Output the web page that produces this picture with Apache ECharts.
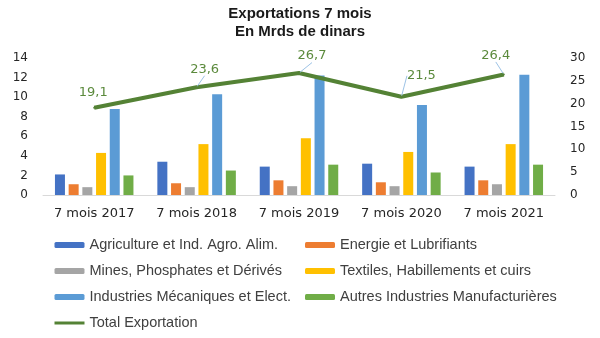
<!DOCTYPE html>
<html>
<head>
<meta charset="utf-8">
<script src="https://cdn.jsdelivr.net/npm/echarts@6/dist/echarts.min.js"></script>
<style>html,body{margin:0;padding:0;background:#fff}#c{width:600px;height:338px}</style>
</head>
<body>
<div id="c"></div>
<script>
const categories = ['7 mois 2017', '7 mois 2018', '7 mois 2019', '7 mois 2020', '7 mois 2021'];
const agriculture = [2.1, 3.4, 2.9, 3.2, 2.9];
const energie = [1.1, 1.2, 1.5, 1.3, 1.5];
const mines = [0.8, 0.8, 0.9, 0.9, 1.1];
const textiles = [4.3, 5.2, 5.8, 4.4, 5.2];
const industries = [8.8, 10.3, 12.2, 9.2, 12.3];
const autres = [2.0, 2.5, 3.1, 2.3, 3.1];
const total = [19.1, 23.6, 26.7, 21.5, 26.4];
const leftTicks = { min: 0, max: 14, interval: 2 };
const rightTicks = { min: 0, max: 30, interval: 5 };

// label placement for the total line (layout only)
const labelShift = [[-1, -15], [8, -18], [13, -17], [20, -21], [-8, -19]];
const leaderShown = [false, true, true, true, true];

const barNames = ['Agriculture et Ind. Agro. Alim.', 'Energie et Lubrifiants', 'Mines, Phosphates et Dérivés',
  'Textiles, Habillements et cuirs', 'Industries Mécaniques et Elect.', 'Autres Industries Manufacturières'];
const barData = [agriculture, energie, mines, textiles, industries, autres];
const barColors = ['#4472C4', '#ED7D31', '#A5A5A5', '#FFC000', '#5B9BD5', '#70AD47'];

const chart = echarts.init(document.getElementById('c'), null, { renderer: 'canvas' });

const series = barNames.map((n, i) => ({
  name: n, type: 'bar', yAxisIndex: 0, data: barData[i],
  barWidth: 10, barGap: '37%', itemStyle: { color: barColors[i] }
}));
series.push({
  name: 'Total Exportation', type: 'line', yAxisIndex: 1,
  data: total.map((v, i) => ({ value: v, labelLine: { show: leaderShown[i] } })),
  symbol: 'circle', symbolSize: 2, showSymbol: true, z: 5,
  lineStyle: { color: '#548235', width: 4 }, itemStyle: { color: '#548235' },
  label: {
    show: true, position: 'inside', color: '#5B8A3C', fontFamily: 'DejaVu Sans', fontSize: 13,
    formatter: p => String(p.value).replace('.', ',')
  },
  labelLine: { show: true, lineStyle: { color: '#9DC3E6', width: 1 } },
  labelLayout: p => ({ dx: labelShift[p.dataIndex][0], dy: labelShift[p.dataIndex][1] })
});

const legendText = { color: '#404040', fontFamily: 'Liberation Sans', fontSize: 14.5, lineHeight: 16 };

chart.setOption({
  animation: false,
  backgroundColor: '#fff',
  title: {
    text: 'Exportations 7 mois\nEn Mrds de dinars', left: 'center', top: 0,
    textStyle: { fontFamily: 'Liberation Sans', fontWeight: 'bold', fontSize: 15, lineHeight: 18, color: '#1a1a1a' }
  },
  legend: [
    { orient: 'vertical', left: 53, top: 237, padding: 0, itemGap: 10, itemWidth: 30, itemHeight: 6,
      data: [barNames[0], barNames[2], barNames[4],
        { name: 'Total Exportation', itemStyle: { opacity: 0 }, lineStyle: { width: 3 } }],
      textStyle: legendText },
    { orient: 'vertical', left: 305, top: 237, padding: 0, itemGap: 10, itemWidth: 30, itemHeight: 6,
      data: [barNames[1], barNames[3], barNames[5]], textStyle: legendText }
  ],
  grid: { left: 43, right: 45, top: 58, bottom: 143, containLabel: false },
  xAxis: {
    type: 'category', data: categories,
    axisLine: { lineStyle: { color: '#D9D9D9', width: 1 } },
    axisTick: { show: false },
    axisLabel: { interval: 0, color: '#262626', fontFamily: 'DejaVu Sans', fontSize: 13, margin: 12 }
  },
  yAxis: [
    { type: 'value', min: leftTicks.min, max: leftTicks.max, interval: leftTicks.interval,
      splitLine: { show: false }, axisLine: { show: false }, axisTick: { show: false },
      axisLabel: { color: '#262626', fontFamily: 'DejaVu Sans', fontSize: 12, margin: 15 } },
    { type: 'value', min: rightTicks.min, max: rightTicks.max, interval: rightTicks.interval,
      splitLine: { show: false }, axisLine: { show: false }, axisTick: { show: false },
      axisLabel: { color: '#262626', fontFamily: 'DejaVu Sans', fontSize: 12, margin: 15 } }
  ],
  series: series
});
</script>
</body>
</html>
